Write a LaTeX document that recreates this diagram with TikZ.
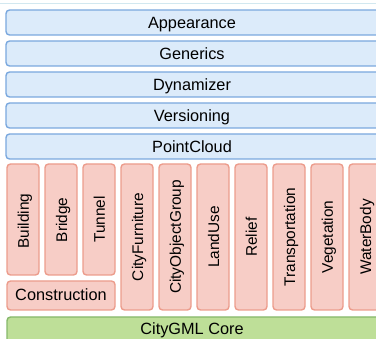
\documentclass[tikz,border=0pt]{standalone}
\usepackage{fontspec}
\setmainfont{Liberation Sans}
\definecolor{bfill}{HTML}{DCEBFA}
\definecolor{bline}{HTML}{7AA8DE}
\definecolor{rfill}{HTML}{F7CDC6}
\definecolor{rline}{HTML}{EC9C8C}
\definecolor{gfill}{HTML}{BEDF98}
\definecolor{gline}{HTML}{86B86A}
\definecolor{topline}{HTML}{D2E8F0}
\begin{document}
\begin{tikzpicture}[x=1pt,y=-1pt,
  every node/.style={inner sep=0pt,outer sep=0pt},
  htext/.style={anchor=base,font=\fontsize{16.3}{18}\selectfont},
  vlabel/.style={rotate=90,anchor=base,font=\fontsize{15.4}{18}\selectfont},
  bluebox/.style={draw=bline,fill=bfill,line width=1.4pt,rounded corners=3.5pt,anchor=north west,minimum width=376pt,minimum height=25pt},
  redbox/.style={draw=rline,fill=rfill,line width=1.4pt,rounded corners=3.5pt,anchor=north west,minimum width=32pt},
  greenbox/.style={draw=gline,fill=gfill,line width=1.4pt,rounded corners=3.5pt,anchor=north west,minimum width=376pt,minimum height=30pt}]
\useasboundingbox (0,0) rectangle (376,339);
\draw[topline,line width=1pt] (0,4) -- (376,4);
\node[bluebox] (app) at (6,10) {};
\node[htext] at (192,28.5) (appt) {Appearance};
\node[bluebox] (gen) at (6,41) {};
\node[htext] at (192,59.5) (gent) {Generics};
\node[bluebox] (dyn) at (6,72) {};
\node[htext] at (192,90.5) (dynt) {Dynamizer};
\node[bluebox] (ver) at (6,103) {};
\node[htext] at (192,121.5) (vert) {Versioning};
\node[bluebox] (pc) at (6,134) {};
\node[htext] at (192,152.5) (pct) {PointCloud};
% short boxes
\node[redbox,minimum height=111pt] (bld) at (7,164) {};
\node[vlabel] at (29,221) {Building};
\node[redbox,minimum height=111pt] (brg) at (45,164) {};
\node[vlabel] at (67,220) {Bridge};
\node[redbox,minimum height=111pt] (tun) at (83,164) {};
\node[vlabel] at (105,219.5) {Tunnel};
\node[redbox,minimum width=108pt,minimum height=29pt] (con) at (7,281) {};
\node[htext] at (61,300.5) (cont) {Construction};
% tall boxes
\foreach \x/\n/\t in {121/cf/CityFurniture,159/cog/CityObjectGroup,197/lu/LandUse,235/rel/Relief,273/tr/Transportation,311/veg/Vegetation,349/wb/WaterBody}{
  \node[redbox,minimum height=146pt] (\n) at (\x,164) {};
  \node[vlabel] at (\x+22,237) {\t};
}
\node[greenbox] (core) at (7,317) {};
\node[htext] at (192,335) (coret) {CityGML Core};
\end{tikzpicture}
\end{document}
